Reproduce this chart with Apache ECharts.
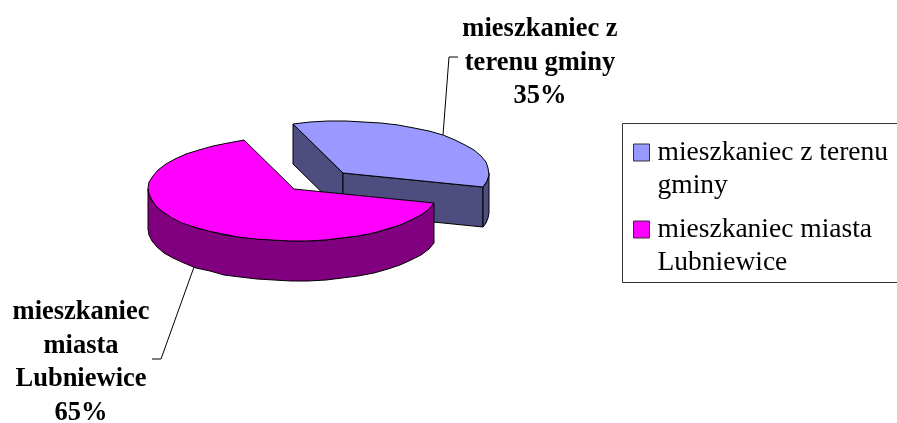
<!DOCTYPE html>
<html><head><meta charset="utf-8">
<style>html,body{margin:0;padding:0;background:#fff;overflow:hidden}#c{width:897px;height:423px}</style>
<script src="https://cdn.jsdelivr.net/npm/echarts@6/dist/echarts.min.js"></script>
</head><body><div id="c"></div>
<script>
const categories = ['mieszkaniec z terenu gminy', 'mieszkaniec miasta Lubniewice'];
const values = [35, 65];
const legendLines = ['mieszkaniec z terenu\ngminy', 'mieszkaniec miasta\nLubniewice'];
const labelLines = [['mieszkaniec z', 'terenu gminy'], ['mieszkaniec', 'miasta', 'Lubniewice']];

const topColors = ['#9999FF', '#FF00FF'];
const sideColors = ['#4D4D80', '#800080'];
const FONT = '"Liberation Serif","Times New Roman",serif';
const RX = 146, RY = 52, DEPTH = 40, START = 250;
const centers = [[343, 173], [294, 189]];
const elbows = [[[449, 57], [458, 57]], [[161, 359], [152, 359]]];
const labelPos = [[540, 29], [81, 312]];
const LINE_H = 33.7;

const total = values.reduce((a, b) => a + b, 0);
function sliceAngles(i) {
  let a = START;
  for (let k = 0; k < i; k++) a += values[k] / total * 360;
  return [a, a + values[i] / total * 360];
}
function pt(c, t, dy) {
  const r = t * Math.PI / 180;
  return [Math.round(c[0] + RX * Math.cos(r)), Math.round(c[1] + RY * Math.sin(r)) + (dy || 0)];
}
function arc(c, a, b, dy) {
  const out = [], n = Math.max(1, Math.ceil((b - a) / 7));
  for (let k = 0; k <= n; k++) out.push(pt(c, a + (b - a) * k / n, dy));
  return out;
}
function renderSlice(i, params, api) {
  const v = api.value(0);
  const [a, b] = sliceAngles(i);
  const c = centers[i];
  const kids = [];
  const side = { fill: sideColors[i], stroke: '#000', lineWidth: 1 };
  const face = t => ({ type: 'polygon', shape: { points: [c, pt(c, t), pt(c, t, DEPTH), [c[0], c[1] + DEPTH]] }, style: side });
  if (Math.sin((a - 90) * Math.PI / 180) > 0) kids.push(face(a));
  if (Math.sin((b + 90) * Math.PI / 180) > 0) kids.push(face(b));
  for (const base of [0, 360]) {
    const s = Math.max(a, base), e = Math.min(b, base + 180);
    if (e > s) {
      const upper = arc(c, s, e, 0), lower = arc(c, s, e, DEPTH).reverse();
      kids.push({ type: 'polygon', shape: { points: upper.concat(lower) }, style: side });
    }
  }
  kids.push({ type: 'polygon', shape: { points: [c].concat(arc(c, a, b, 0)) },
    style: { fill: topColors[i], stroke: '#000', lineWidth: 1 } });
  const mid = (a + b) / 2;
  const onFront = Math.sin(mid * Math.PI / 180) > 0;
  const anchor = pt(c, mid, onFront ? DEPTH : 0);
  kids.push({ type: 'polyline', shape: { points: [anchor].concat(elbows[i]) },
    style: { fill: 'none', stroke: '#000', lineWidth: 1 } });
  const lines = labelLines[i].concat([v + '%']);
  lines.forEach((t, k) => kids.push({ type: 'text', x: labelPos[i][0], y: labelPos[i][1] + k * LINE_H,
    style: { text: t, fill: '#000', font: 'bold 26.5px ' + FONT, align: 'center', verticalAlign: 'middle' } }));
  return { type: 'group', children: kids };
}

const chart = echarts.init(document.getElementById('c'), null, { renderer: 'canvas' });
chart.setOption({
  animation: false,
  backgroundColor: '#fff',
  graphic: [{ type: 'rect', left: 622, top: 123, z: 0,
    shape: { x: 0, y: 0, width: 290, height: 159 },
    style: { fill: '#fff', stroke: '#333', lineWidth: 1 } }],
  legend: {
    orient: 'vertical', left: 633, top: 103,
    padding: 0, z: 5,
    itemGap: -22, itemWidth: 16, itemHeight: 17,
    icon: 'rect', selectedMode: false,
    itemStyle: { borderColor: '#333', borderWidth: 1 },
    formatter: n => '\n' + legendLines[categories.indexOf(n)],
    textStyle: { fontFamily: FONT, fontSize: 27.5, lineHeight: 33, color: '#000', padding: [0, 0, 0, 3] },
    data: categories
  },
  series: categories.map((name, i) => ({
    type: 'custom', name, coordinateSystem: 'none', silent: true,
    itemStyle: { color: topColors[i] },
    data: [[values[i]]],
    renderItem: (p, api) => renderSlice(i, p, api)
  }))
});
</script></body></html>
